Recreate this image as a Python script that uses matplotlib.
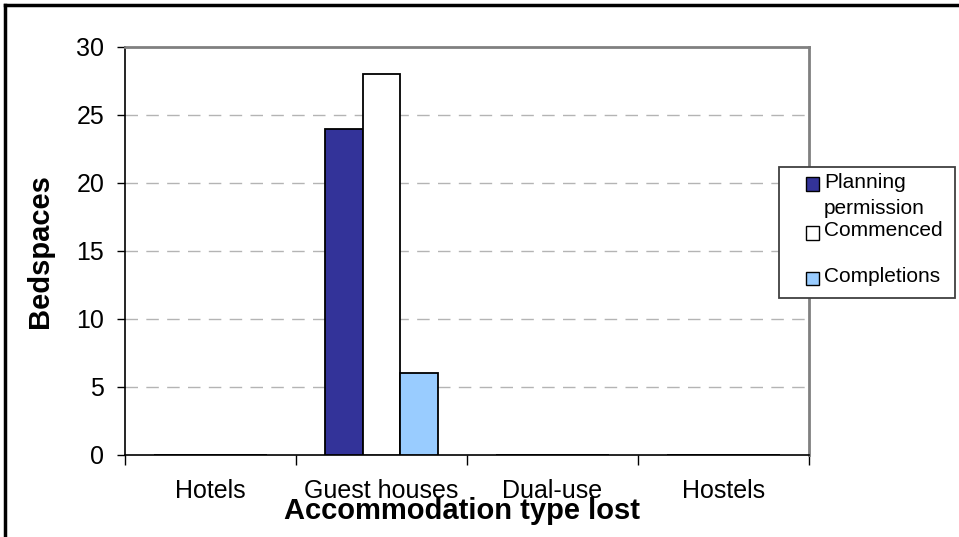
import matplotlib
matplotlib.use("Agg")
import matplotlib.pyplot as plt
import numpy as np
from matplotlib.lines import Line2D
from matplotlib.patches import Rectangle

plt.rcParams["font.family"] = ["Liberation Sans", "DejaVu Sans"]

# Data
categories = ["Hotels", "Guest houses", "Dual-use", "Hostels"]
series_names = ["Planning\npermission", "Commenced", "Completions"]
planning = [0, 24, 0, 0]
commenced = [0, 28, 0, 0]
completions = [0, 6, 0, 0]
yticks = [0, 5, 10, 15, 20, 25, 30]

COLORS = ["#333399", "#FFFFFF", "#99CCFF"]
GRID = "#b4b4b4"
FRAME_GREY = "#808080"

W, H = 959, 537
fig = plt.figure(figsize=(W / 100, H / 100), dpi=100)
ax = fig.add_axes([125 / W, 1 - 455 / H, (809 - 125) / W, (455 - 47) / H])

x = np.arange(len(categories))
bw = 0.22
for i, vals in enumerate([planning, commenced, completions]):
    ax.bar(x + (i - 1) * bw, vals, width=bw, color=COLORS[i],
           edgecolor="black", linewidth=1.3, zorder=3)

ax.set_xlim(-0.5, len(categories) - 0.5)
ax.set_ylim(0, 30)

# dashed gridlines (Excel style)
for y in yticks[1:-1]:
    ax.axhline(y, color=GRID, linewidth=1.0, dashes=(9, 6), zorder=1)

ax.set_yticks(yticks)
ax.set_yticklabels([str(v) for v in yticks], fontsize=18)
ax.tick_params(axis="y", direction="out", length=6, width=1, pad=9)

# category labels in the middle, ticks on boundaries
ax.set_xticks(x)
ax.set_xticklabels(categories, fontsize=18)
ax.tick_params(axis="x", which="major", length=0, pad=17)
ax.set_xticks(np.arange(len(categories) + 1) - 0.5, minor=True)
ax.tick_params(axis="x", which="minor", direction="out", length=7, width=1)

for side in ("left", "bottom"):
    ax.spines[side].set_color("black")
    ax.spines[side].set_linewidth(1.2)
for side in ("top", "right"):
    ax.spines[side].set_color(FRAME_GREY)
    ax.spines[side].set_linewidth(2)

ax.set_xlabel("Accommodation type lost", fontsize=21, fontweight="bold")
ax.xaxis.set_label_coords((462 - 125) / 684, -(511 - 455) / 408)
ax.xaxis.label.set_va("center")
ax.set_ylabel("Bedspaces", fontsize=21, fontweight="bold")
ax.yaxis.set_label_coords((40 - 125) / 684, 0.5)
ax.yaxis.label.set_va("center")

# legend, laid out like the Excel original
def fx(px):
    return px / W

def fy(py):
    return 1 - py / H

fig.add_artist(Rectangle((fx(779), fy(298)), fx(955) - fx(779), fy(167) - fy(298),
                         transform=fig.transFigure, facecolor="white",
                         edgecolor="#404040", linewidth=1.3, zorder=5))
marker_y = [184, 233, 278]
text_y = [182, 230, 277]
for name, color, my, ty in zip(series_names, COLORS, marker_y, text_y):
    fig.add_artist(Rectangle((fx(806), fy(my + 6.5)), fx(13), 13 / H,
                             transform=fig.transFigure, facecolor=color,
                             edgecolor="black", linewidth=1, zorder=6))
    lines = name.split("\n")
    for k, line in enumerate(lines):
        fig.text(fx(824), fy(ty + 27 * k), line, fontsize=15,
                 ha="left", va="center", zorder=7)

# outer chart border (clipped at right/bottom in the reference)
fig.add_artist(Line2D([5 / W, 5 / W], [0, 1 - 5 / H], color="black", linewidth=2.5))
fig.add_artist(Line2D([5 / W, 1], [1 - 5 / H, 1 - 5 / H], color="black", linewidth=2.5))

fig.savefig("out.png", dpi=100, facecolor="white")
